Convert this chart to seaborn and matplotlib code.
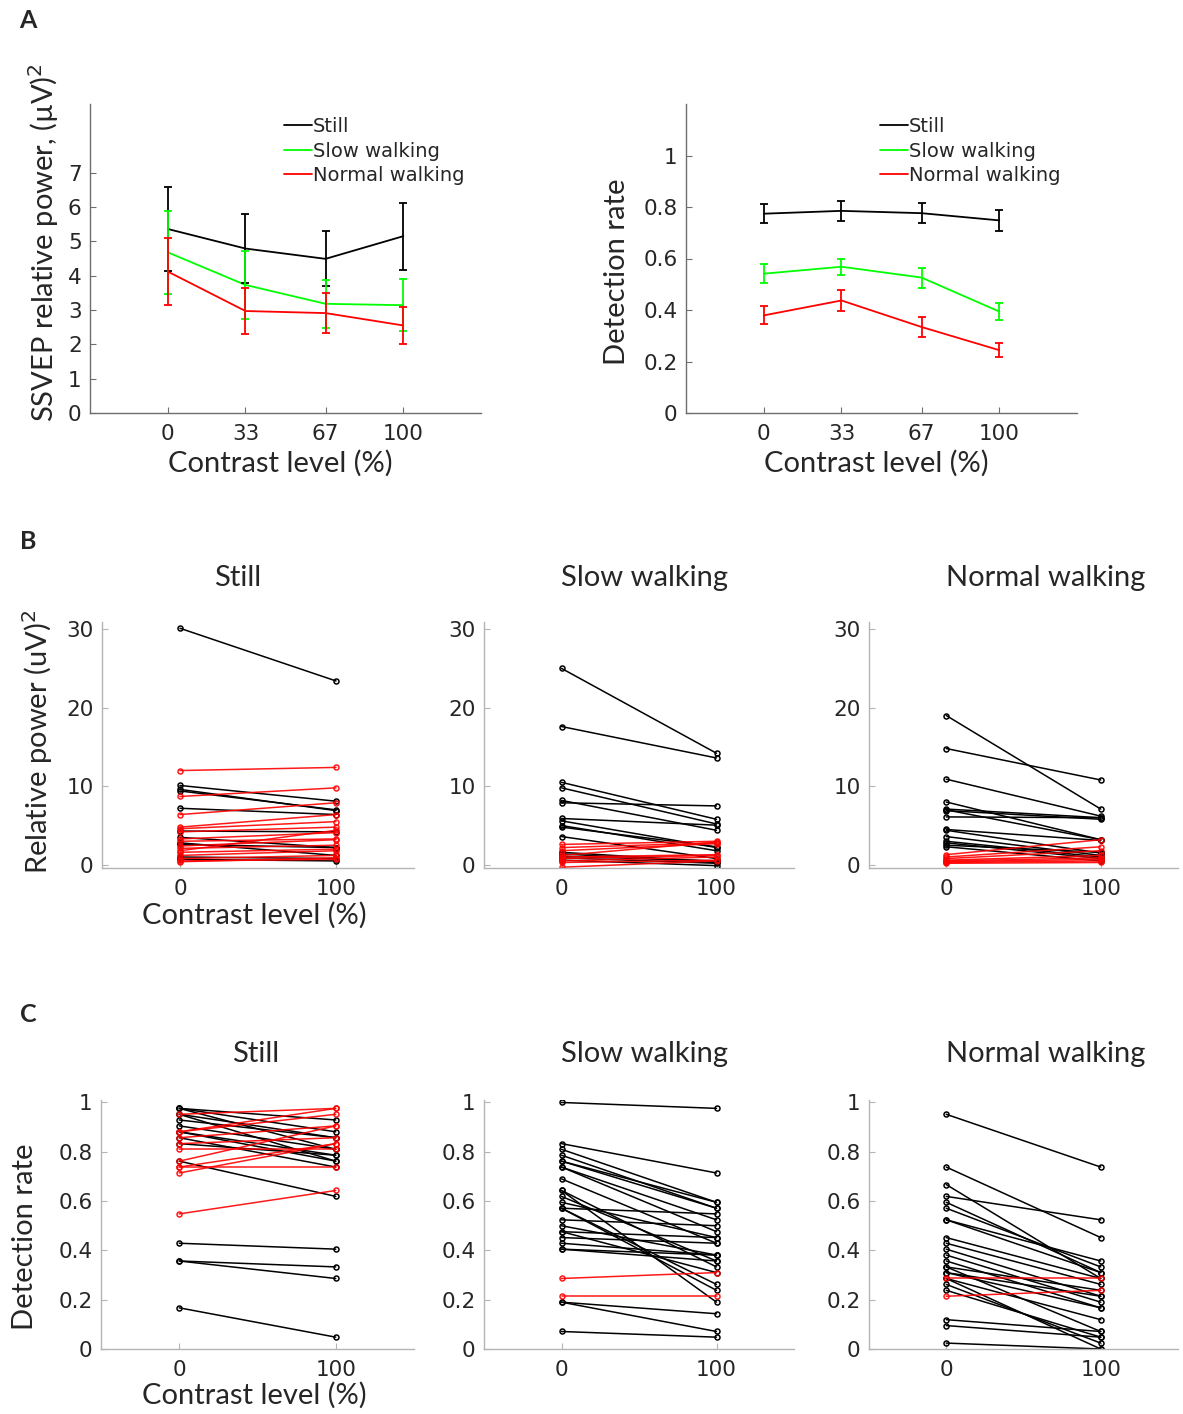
import numpy as np
import pandas as pd
import matplotlib
matplotlib.use("Agg")
import matplotlib.pyplot as plt
import seaborn as sns

# ===============================
# Datos panel A (media +/- error)
# ===============================
contrast = [0, 33, 67, 100]
conditions = ["Still", "Slow walking", "Normal walking"]
cond_colors = {"Still": "#000000", "Slow walking": "#00ff00", "Normal walking": "#ff0000"}

power_still = [5.36, 4.79, 4.49, 5.15]
power_still_err = [1.23, 1.01, 0.80, 0.98]
power_slow = [4.68, 3.73, 3.18, 3.14]
power_slow_err = [1.20, 1.00, 0.69, 0.76]
power_normal = [4.12, 2.97, 2.91, 2.55]
power_normal_err = [0.97, 0.67, 0.59, 0.54]

det_still = [0.774, 0.785, 0.776, 0.748]
det_still_err = [0.037, 0.038, 0.039, 0.040]
det_slow = [0.541, 0.568, 0.526, 0.394]
det_slow_err = [0.038, 0.032, 0.039, 0.034]
det_normal = [0.379, 0.437, 0.334, 0.244]
det_normal_err = [0.035, 0.040, 0.039, 0.027]

# ===============================
# Datos paneles B y C (por sujeto, contraste 0 y 100)
# ===============================
pair_contrast = [0, 100]

pow_still_0 = [30.1, 12.0, 10.1, 9.6, 9.4, 8.7, 7.2, 6.4, 4.8, 4.6, 4.3, 4.2, 3.5, 3.3,
               3.0, 2.8, 2.6, 2.4, 2.1, 1.8, 1.6, 1.2, 1.0, 0.8, 0.7, 0.5, 0.4]
pow_still_100 = [23.4, 12.4, 8.1, 6.9, 7.0, 9.8, 6.4, 7.9, 6.4, 5.5, 4.2, 4.8, 2.2, 4.1,
                 3.3, 1.2, 2.2, 3.2, 2.5, 4.4, 2.0, 1.8, 0.8, 1.2, 0.5, 0.7, 0.9]

pow_slow_0 = [25.0, 17.6, 10.5, 9.8, 8.2, 7.9, 5.9, 5.6, 5.0, 4.8, 3.6, 1.6, 1.4, 1.1,
              0.9, 0.6, 2.6, 2.2, 1.8, 1.2, 0.8, 0.5, 0.3, -0.3, 1.0]
pow_slow_100 = [14.2, 13.6, 5.8, 5.2, 4.4, 7.5, 5.05, 2.2, 1.8, 2.3, 0.8, 0.4, 0.3, 0.5,
                0.2, -0.1, 3.0, 2.8, 2.7, 2.9, 1.2, 1.0, 0.6, 0.5, 1.3]

pow_normal_0 = [19.0, 14.8, 10.9, 8.0, 7.1, 7.0, 6.1, 6.9, 4.5, 4.4, 3.6, 3.0, 2.8, 2.5,
                2.3, 1.3, 1.0, 0.8, 0.6, 0.4, 0.3, 0.2, 0.5]
pow_normal_100 = [7.1, 10.8, 6.2, 3.2, 6.0, 3.2, 6.0, 5.8, 3.1, 1.5, 1.2, 1.0, 0.8, 1.6,
                  0.5, 3.2, 2.3, 1.8, 1.2, 0.7, 0.5, 0.3, 0.9]

det_still_0 = [0.976, 0.976, 0.952, 0.929, 0.905, 0.881, 0.881, 0.857, 0.833, 0.810,
               0.762, 0.429, 0.357, 0.357, 0.167, 0.952, 0.881, 0.881, 0.857, 0.833,
               0.762, 0.738, 0.714, 0.738, 0.548, 0.952, 0.976]
det_still_100 = [0.929, 0.881, 0.857, 0.857, 0.810, 0.786, 0.762, 0.738, 0.786, 0.810,
                 0.619, 0.405, 0.333, 0.286, 0.048, 0.976, 0.976, 0.952, 0.905, 0.857,
                 0.905, 0.833, 0.833, 0.738, 0.643, 0.762, 0.810]

det_slow_0 = [1.000, 0.833, 0.810, 0.786, 0.762, 0.738, 0.690, 0.643, 0.619, 0.595,
              0.571, 0.571, 0.571, 0.524, 0.500, 0.476, 0.476, 0.452, 0.429, 0.405,
              0.405, 0.190, 0.190, 0.071, 0.643, 0.738, 0.762, 0.286, 0.214]
det_slow_100 = [0.976, 0.714, 0.595, 0.571, 0.595, 0.476, 0.429, 0.333, 0.357, 0.452,
                0.548, 0.262, 0.238, 0.500, 0.381, 0.452, 0.310, 0.429, 0.381, 0.381,
                0.357, 0.143, 0.071, 0.048, 0.190, 0.524, 0.571, 0.310, 0.214]

det_normal_0 = [0.952, 0.738, 0.667, 0.619, 0.595, 0.571, 0.524, 0.524, 0.452, 0.429,
                0.405, 0.381, 0.357, 0.333, 0.310, 0.286, 0.262, 0.238, 0.310, 0.333,
                0.119, 0.095, 0.024, 0.286, 0.286, 0.214]
det_normal_100 = [0.738, 0.452, 0.286, 0.524, 0.310, 0.333, 0.357, 0.310, 0.286, 0.262,
                  0.214, 0.190, 0.167, 0.238, 0.167, 0.119, 0.024, 0.048, 0.214, 0.071,
                  0.071, 0.048, 0.000, 0.000, 0.286, 0.238]

# ===============================
# Estilo
# ===============================
sns.set_style("ticks")
plt.rcParams["font.family"] = ["DejaVu Sans"]
LABEL_FONT = ["Lato", "DejaVu Sans"]
TICK_COLOR = "#262626"
TICK_SIZE = 15.5
LABEL_SIZE = 21

W, H = 1183, 1414
fig = plt.figure(figsize=(W / 100, H / 100), dpi=100)


def px_axes(left, top, right, bottom):
    return fig.add_axes([left / W, 1 - bottom / H, (right - left) / W, (bottom - top) / H])


def style_axes(ax, spine_color):
    sns.despine(ax=ax)
    for s in ["left", "bottom"]:
        ax.spines[s].set_color(spine_color)
        ax.spines[s].set_linewidth(1.0)
    ax.tick_params(direction="in", length=4, width=0.8, color=spine_color,
                   labelcolor=TICK_COLOR, labelsize=TICK_SIZE, pad=6)
    ax.tick_params(axis="x", pad=8)


def fmt(v):
    return "%g" % v


# ===============================
# Panel A
# ===============================
def plot_means(ax, means, errs, ylim, yticks):
    rows = []
    for cond, m, e in zip(conditions, means, errs):
        for c, mv, ev in zip(contrast, m, e):
            rows.append({"cond": cond, "contrast": c, "mean": mv, "err": ev})
    d = pd.DataFrame(rows)
    sns.lineplot(data=d, x="contrast", y="mean", hue="cond", hue_order=conditions,
                 palette=cond_colors, linewidth=1.3, ax=ax, legend=False)
    for cond in conditions:
        sub = d[d["cond"] == cond]
        ax.errorbar(sub["contrast"], sub["mean"], yerr=sub["err"], fmt="none",
                    ecolor=cond_colors[cond], elinewidth=1.3, capsize=3, capthick=1.3)
    ax.set_xlim(-33, 133)
    ax.set_ylim(*ylim)
    ax.set_xticks(contrast)
    ax.set_yticks(yticks)
    ax.set_yticklabels([fmt(v) for v in yticks])
    ax.set_xlabel("")
    ax.set_ylabel("")
    handles = [plt.Line2D([], [], color=cond_colors[c], lw=1.3) for c in conditions]
    ax.legend(handles, conditions, loc="upper left", bbox_to_anchor=(0.495, 0.957),
              frameon=False, fontsize=14, handlelength=1.45, handletextpad=0.05,
              labelspacing=0.28, borderpad=0, borderaxespad=0)
    style_axes(ax, "#6e6e6e")
    ax.text(0.486, -50 / 309, "Contrast level (%)", transform=ax.transAxes,
            ha="center", va="center", fontsize=LABEL_SIZE, family=LABEL_FONT)


axA1 = px_axes(90, 104, 481, 413)
plot_means(axA1, [power_still, power_slow, power_normal],
           [power_still_err, power_slow_err, power_normal_err],
           (0, 9), list(range(0, 8)))
axA1.text(-0.12, 0.553, "SSVEP relative power, (\u00b5V)$^2$", transform=axA1.transAxes,
          rotation=90, ha="center", va="center", fontsize=LABEL_SIZE, family=LABEL_FONT)

axA2 = px_axes(686, 104, 1077, 413)
plot_means(axA2, [det_still, det_slow, det_normal],
           [det_still_err, det_slow_err, det_normal_err],
           (0, 1.2), [0, 0.2, 0.4, 0.6, 0.8, 1])
axA2.text(-0.176, 0.456, "Detection rate", transform=axA2.transAxes,
          rotation=90, ha="center", va="center", fontsize=LABEL_SIZE, family=LABEL_FONT)


# ===============================
# Paneles B y C
# ===============================
def pairs_df(v0, v100):
    rows = []
    for i, (a, b) in enumerate(zip(v0, v100)):
        trend = "up" if b >= a else "down"
        rows.append({"subject": i, "contrast": pair_contrast[0], "value": a, "trend": trend})
        rows.append({"subject": i, "contrast": pair_contrast[1], "value": b, "trend": trend})
    return pd.DataFrame(rows)


def plot_pairs(ax, v0, v100, ylim, yticks, title, title_x, top_px):
    d = pairs_df(v0, v100)
    sns.lineplot(data=d, x="contrast", y="value", units="subject", estimator=None,
                 hue="trend", hue_order=["down", "up"],
                 palette={"down": "#000000", "up": "#ff0000"},
                 marker="o", markersize=3.6, linewidth=1.1, sort=False,
                 legend=False, ax=ax)
    for ln in ax.lines:
        col = ln.get_color()
        ln.set_markeredgecolor(col)
        ln.set_markerfacecolor("none")
        ln.set_markeredgewidth(1.1)
        if col in ("#ff0000", "red") or col == (1.0, 0.0, 0.0):
            ln.set_alpha(0.9)
    ax.set_xlim(-50, 150)
    ax.set_ylim(*ylim)
    ax.set_xticks(pair_contrast)
    ax.set_yticks(yticks)
    ax.set_yticklabels([fmt(v) for v in yticks])
    ax.set_xlabel("")
    ax.set_ylabel("")
    style_axes(ax, "#b4b4b4")
    ax.text(title_x, 1 + top_px / ax.bbox.height, title, transform=ax.transAxes,
            ha="center", va="baseline", fontsize=LABEL_SIZE, family=LABEL_FONT)


b_lim = (-0.4, 30.9)
b_ticks = [0, 10, 20, 30]
c_lim = (0, 1.01)
c_ticks = [0, 0.2, 0.4, 0.6, 0.8, 1]

axB1 = px_axes(102, 622, 414, 868)
axB2 = px_axes(484, 622, 794, 868)
axB3 = px_axes(869, 622, 1178, 868)
plot_pairs(axB1, pow_still_0, pow_still_100, b_lim, b_ticks, "Still", 0.433, 36)
plot_pairs(axB2, pow_slow_0, pow_slow_100, b_lim, b_ticks, "Slow walking", 0.519, 36)
plot_pairs(axB3, pow_normal_0, pow_normal_100, b_lim, b_ticks, "Normal walking", 0.573, 36)
axB1.text(0.487, -47 / 246, "Contrast level (%)", transform=axB1.transAxes,
          ha="center", va="center", fontsize=LABEL_SIZE, family=LABEL_FONT)
axB1.text(-0.208, 0.512, "Relative power (uV)$^2$", transform=axB1.transAxes,
          rotation=90, ha="center", va="center", fontsize=LABEL_SIZE, family=LABEL_FONT)

axC1 = px_axes(101, 1100, 414, 1349)
axC2 = px_axes(484, 1100, 794, 1349)
axC3 = px_axes(869, 1100, 1178, 1349)
plot_pairs(axC1, det_still_0, det_still_100, c_lim, c_ticks, "Still", 0.495, 38)
plot_pairs(axC2, det_slow_0, det_slow_100, c_lim, c_ticks, "Slow walking", 0.519, 38)
plot_pairs(axC3, det_normal_0, det_normal_100, c_lim, c_ticks, "Normal walking", 0.573, 38)
axC1.text(0.489, -46 / 249, "Contrast level (%)", transform=axC1.transAxes,
          ha="center", va="center", fontsize=LABEL_SIZE, family=LABEL_FONT)
axC1.text(-0.243, 0.45, "Detection rate", transform=axC1.transAxes,
          rotation=90, ha="center", va="center", fontsize=LABEL_SIZE, family=LABEL_FONT)

# Letras de panel
for letter, ypx in [("A", 20), ("B", 541), ("C", 1015)]:
    fig.text(28 / W, 1 - ypx / H, letter, ha="center", va="center",
             fontsize=18, fontweight="bold", family=LABEL_FONT)

fig.savefig("out.png", dpi=100, facecolor="white")
